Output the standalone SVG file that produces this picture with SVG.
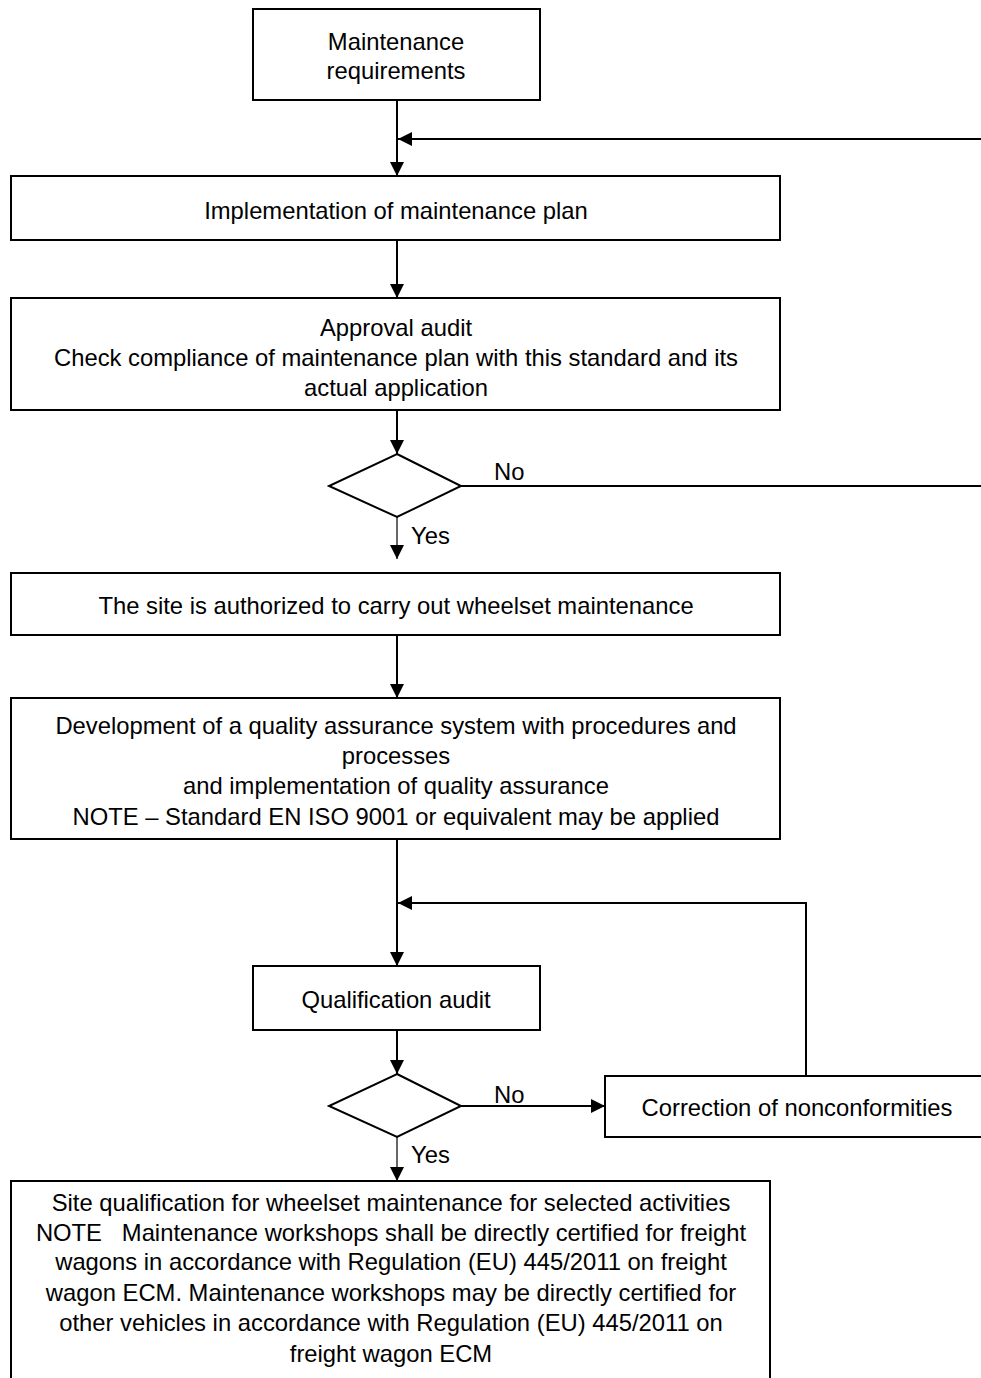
<svg xmlns="http://www.w3.org/2000/svg" width="981" height="1378" viewBox="0 0 981 1378">
<style>
.box{fill:#fff;stroke:#000;stroke-width:2}
.ln{fill:none;stroke:#000;stroke-width:2}
.thin{fill:none;stroke:#000;stroke-width:1.2}
text{font-family:"Liberation Sans",Arial,sans-serif;font-size:23.8px;fill:#000}
.c{text-anchor:middle}
</style>
<defs>
<marker id="ah" viewBox="0 0 14 14" refX="14" refY="7" markerWidth="14" markerHeight="14" markerUnits="userSpaceOnUse" orient="auto">
<path d="M0,0 L14,7 L0,14 Z" fill="#000"/>
</marker>
</defs>
<rect width="981" height="1378" fill="#fff"/>
<g id="connectors">
<line class="ln" x1="397" y1="100" x2="397" y2="176" marker-end="url(#ah)"/>
<line class="ln" x1="981" y1="139" x2="398" y2="139" marker-end="url(#ah)"/>
<line class="ln" x1="397" y1="240" x2="397" y2="298" marker-end="url(#ah)"/>
<line class="ln" x1="397" y1="410" x2="397" y2="454" marker-end="url(#ah)"/>
<line class="ln" x1="461" y1="486" x2="981" y2="486"/>
<line class="thin" x1="397" y1="517" x2="397" y2="559" marker-end="url(#ah)"/>
<line class="ln" x1="397" y1="635" x2="397" y2="698" marker-end="url(#ah)"/>
<line class="ln" x1="397" y1="839" x2="397" y2="966" marker-end="url(#ah)"/>
<polyline class="ln" points="806,1076 806,903 398,903" marker-end="url(#ah)"/>
<line class="ln" x1="397" y1="1030" x2="397" y2="1074" marker-end="url(#ah)"/>
<line class="ln" x1="461" y1="1106" x2="605" y2="1106" marker-end="url(#ah)"/>
<line class="thin" x1="397" y1="1137" x2="397" y2="1181" marker-end="url(#ah)"/>
<text x="494" y="480">No</text>
<text x="411" y="544">Yes</text>
<text x="494" y="1103">No</text>
<text x="411" y="1163">Yes</text>
</g>
<g id="n1">
<rect class="box" x="253" y="9" width="287" height="91"/>
<text class="c" x="396" y="50">Maintenance</text>
<text class="c" x="396" y="79">requirements</text>
</g>
<g id="n2">
<rect class="box" x="11" y="176" width="769" height="64"/>
<text class="c" x="396" y="219">Implementation of maintenance plan</text>
</g>
<g id="n3">
<rect class="box" x="11" y="298" width="769" height="112"/>
<text class="c" x="396" y="336">Approval audit</text>
<text class="c" x="396" y="366">Check compliance of maintenance plan with this standard and its</text>
<text class="c" x="396" y="396">actual application</text>
</g>
<g id="d1">
<polygon class="box" points="397,454 461,486 397,517 329,486"/>
</g>
<g id="n4">
<rect class="box" x="11" y="573" width="769" height="62"/>
<text class="c" x="396" y="614">The site is authorized to carry out wheelset maintenance</text>
</g>
<g id="n5">
<rect class="box" x="11" y="698" width="769" height="141"/>
<text class="c" x="396" y="734">Development of a quality assurance system with procedures and</text>
<text class="c" x="396" y="764">processes</text>
<text class="c" x="396" y="794">and implementation of quality assurance</text>
<text class="c" x="396" y="825">NOTE – Standard EN ISO 9001 or equivalent may be applied</text>
</g>
<g id="n6">
<rect class="box" x="253" y="966" width="287" height="64"/>
<text class="c" x="396" y="1008">Qualification audit</text>
</g>
<g id="d2">
<polygon class="box" points="397,1074 461,1106 397,1137 329,1106"/>
</g>
<g id="n7">
<rect class="box" x="605" y="1076" width="390" height="61"/>
<text class="c" x="797" y="1116">Correction of nonconformities</text>
</g>
<g id="n8">
<rect class="box" x="11" y="1181" width="759" height="210"/>
<text class="c" x="391" y="1211">Site qualification for wheelset maintenance for selected activities</text>
<text class="c" x="391" y="1241">NOTE&#160;&#160;&#160;Maintenance workshops shall be directly certified for freight</text>
<text class="c" x="391" y="1270">wagons in accordance with Regulation (EU) 445/2011 on freight</text>
<text class="c" x="391" y="1301">wagon ECM. Maintenance workshops may be directly certified for</text>
<text class="c" x="391" y="1331">other vehicles in accordance with Regulation (EU) 445/2011 on</text>
<text class="c" x="391" y="1362">freight wagon ECM</text>
</g>
</svg>
